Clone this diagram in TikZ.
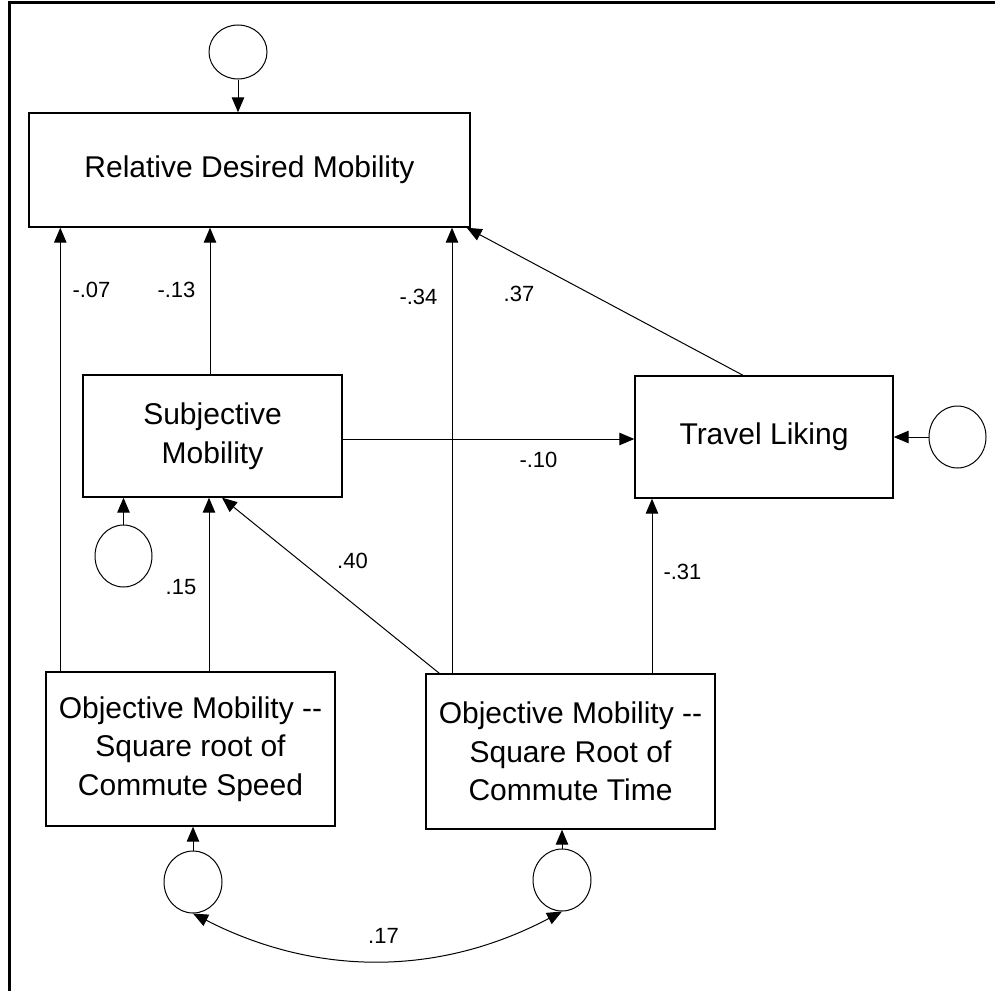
\documentclass[tikz,border=0pt]{standalone}
\usepackage{fontspec}
\setmainfont{Liberation Sans}
\usetikzlibrary{arrows.meta,shapes.geometric}

\tikzset{
  varbox/.style={draw, line width=1.4pt, align=center, inner sep=0pt,
    font=\fontsize{30}{38.5}\selectfont},
  errc/.style={draw, ellipse, line width=1pt, inner sep=0pt},
  link/.style={draw, line width=1pt, -{Triangle[length=15pt,width=12.5pt]}},
  covar/.style={draw, line width=1pt,
    {Triangle[length=15pt,width=12.5pt]}-{Triangle[length=15pt,width=12.5pt]}},
  coef/.style={inner sep=0pt, font=\fontsize{22}{26}\selectfont},
}

\begin{document}
\begin{tikzpicture}[x=1pt, y=-1pt]
  \useasboundingbox (0,0) rectangle (995,990);
  \clip (0,0) rectangle (995,990);

  % outer frame
  \draw[line width=3pt] (9,1020) -- (9,3) -- (1020,3);

  % observed variables
  \node[varbox, minimum width=441pt, minimum height=114pt] (rdm) at (249.5,170) {Relative Desired Mobility};
  \node[varbox, minimum width=259pt, minimum height=122pt] (sm) at (212.5,436) {Subjective\\Mobility};
  \node[varbox, minimum width=258pt, minimum height=122pt] (tl) at (764,437) {Travel Liking};
  \node[varbox, minimum width=289pt, minimum height=154pt] (os) at (190.5,749) {Objective Mobility -{}-\\Square root of\\Commute Speed};
  \node[varbox, minimum width=289pt, minimum height=155pt] (ot) at (570.5,751.5) {Objective Mobility -{}-\\Square Root of\\Commute Time};

  % error terms
  \node[errc, minimum width=58pt, minimum height=54pt] (e1) at (238,52) {};
  \node[errc, minimum width=57pt, minimum height=62pt] (e2) at (123.5,556) {};
  \node[errc, minimum width=57pt, minimum height=62pt] (e3) at (957.5,437) {};
  \node[errc, minimum width=58pt, minimum height=62pt] (e4) at (193,882) {};
  \node[errc, minimum width=58pt, minimum height=62pt] (e5) at (562,880) {};

  % attachment points on box edges
  \coordinate (osA) at ([xshift=15pt]os.north west);
  \coordinate (osB) at ([xshift=18.5pt]os.north);
  \coordinate (smA) at ([xshift=-2.5pt]sm.north);
  \coordinate (otA) at ([xshift=-118.5pt]ot.north);
  \coordinate (otB) at ([xshift=14pt]ot.north west);
  \coordinate (smB) at ([xshift=9.5pt]sm.south);
  \coordinate (smC) at ([yshift=-3pt]sm.east);
  \coordinate (tlA) at ([xshift=-21pt]tl.north);
  \coordinate (rdmC) at ([xshift=-4pt]rdm.south east);
  \coordinate (otC) at ([xshift=81.5pt]ot.north);

  % structural paths
  \draw[link] (osA) -- (osA |- rdm.south);
  \draw[link] (smA) -- (smA |- rdm.south);
  \draw[link] (otA) -- (otA |- rdm.south);
  \draw[link] (tlA) -- (rdmC);
  \draw[link] (smC) -- (smC -| tl.west);
  \draw[link] (osB) -- (osB |- sm.south);
  \draw[link] (otB) -- (smB);
  \draw[link] (otC) -- (otC |- tl.south);

  % error paths
  \draw[link] (e1.south) -- (e1.south |- rdm.north);
  \draw[link] (e2.north) -- (e2.north |- sm.south);
  \draw[link] (e3.west) -- (e3.west -| tl.east);
  \draw[link] (e4.north) -- (e4.north |- os.south);
  \draw[link] (e5.north) -- (e5.north |- ot.south);

  % correlated errors
  \draw[covar] (e4.south) .. controls +(123,63) and +(-123,65) .. (e5.south);

  % coefficients
  \node[coef] (c1) at (91.5,290) {-.07};
  \node[coef] (c2) at (176.5,290) {-.13};
  \node[coef] (c3) at (418.5,297) {-.34};
  \node[coef] (c4) at (519,294) {.37};
  \node[coef] (c5) at (538.5,459.5) {-.10};
  \node[coef] (c6) at (181,587) {.15};
  \node[coef] (c7) at (352.5,560.5) {.40};
  \node[coef] (c8) at (682.5,572) {-.31};
  \node[coef] (c9) at (383.5,936) {.17};
\end{tikzpicture}
\end{document}
